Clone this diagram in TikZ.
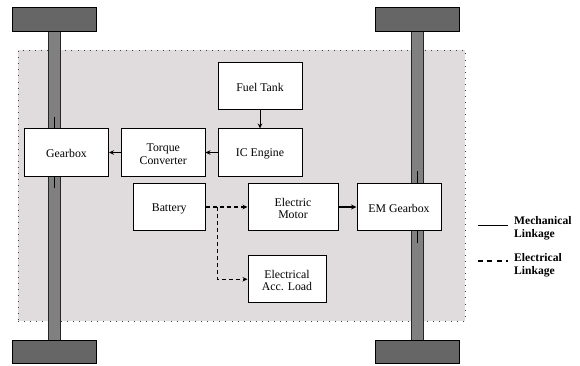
\documentclass[tikz,border=0pt]{standalone}
\usepackage{fontspec}
\setmainfont{Liberation Serif}
\usetikzlibrary{arrows.meta}
\definecolor{regionfill}{HTML}{E0DBDC}
\definecolor{tyrefill}{HTML}{666666}
\definecolor{axlefill}{HTML}{808080}
\newcommand\topgap{\rule{0pt}{11pt}}
\tikzset{
 every node/.style={font=\fontsize{11.8}{12.6}\selectfont,align=center,inner sep=0pt},
 blockbox/.style={draw=black,line width=1pt,fill=white,minimum height=47pt},
 tyre/.style={draw=black,line width=1pt,fill=tyrefill,minimum width=84pt,minimum height=23.5pt},
 axle/.style={draw=black!85,line width=1pt,fill=axlefill,minimum width=12pt,minimum height=309pt},
 mech/.style={line width=0.9pt,-{Stealth[length=5pt,width=4.5pt]}},
 thickmech/.style={line width=1.3pt,-{Stealth[length=5.5pt,width=5pt]}},
 elec/.style={line width=1.1pt,dash pattern=on 4pt off 3pt,-{Stealth[length=5pt,width=4.5pt]}},
 stub/.style={line width=0.9pt,draw=black},
 legendtext/.style={font=\fontsize{11.6}{12.6}\selectfont\bfseries,align=left,anchor=west},
}
\begin{document}
\begin{tikzpicture}[x=1pt,y=-1pt]
\useasboundingbox (0,0) rectangle (580,366);
% hybrid region
\node[draw=black!75,dash pattern=on 0.9pt off 5.2pt,line width=0.9pt,fill=regionfill,minimum width=447pt,minimum height=270.5pt] (region) at (241.5,185.75) {};
% axles and wheels
\node[axle] (axleL) at (54.5,185.75) {};
\node[axle] (axleR) at (417,185.75) {};
\node[tyre] (tyreLT) at (54.5,19.5) {};
\node[tyre] (tyreRT) at (417,19.5) {};
\node[tyre] (tyreLB) at (54.5,352) {};
\node[tyre] (tyreRB) at (417,352) {};
% blocks
\node[blockbox,minimum width=84pt] (fuel) at (260,86) {\topgap Fuel Tank};
\node[blockbox,minimum width=84pt] (ice) at (260,152.5) {\topgap IC Engine};
\node[blockbox,minimum width=83.5pt] (tc) at (163.25,152.5) {\topgap Torque\\Converter};
\node[blockbox,minimum width=84pt] (gbL) at (66.5,152.5) {\topgap Gearbox};
\node[blockbox,minimum width=71.5pt] (bat) at (169.25,207) {\topgap Battery};
\node[blockbox,minimum width=90pt] (motor) at (293,207) {\topgap Electric\\Motor};
\node[blockbox,minimum width=84pt] (gbR) at (399,207) {\topgap EM Gearbox};
\node[blockbox,minimum width=78pt] (acc) at (287,279.25) {\topgap Electrical\\Acc. Load};
% connectors
\draw[mech] (fuel) -- (ice);
\draw[mech] (ice) -- (tc);
\draw[mech] (tc) -- (gbL);
\draw[thickmech] (motor) -- (gbR);
\coordinate (junction) at (217.5,207);
\draw[elec] (bat) -- (motor);
\draw[elec] (junction) |- (acc);
% shaft stubs at gearboxes
\coordinate (stubLa) at (54.5,117);
\coordinate (stubLb) at (54.5,188);
\coordinate (stubRa) at (417,171);
\coordinate (stubRb) at (417,243);
\draw[stub] (stubLa) -- (stubLa |- gbL.north);
\draw[stub] (stubLb) -- (stubLb |- gbL.south);
\draw[stub] (stubRa) -- (stubRa |- gbR.north);
\draw[stub] (stubRb) -- (stubRb |- gbR.south);
% legend
\coordinate (mechA) at (477.5,225);
\coordinate (mechB) at (508,225);
\coordinate (elecA) at (477.5,261);
\coordinate (elecB) at (508,261);
\draw[line width=0.9pt] (mechA) -- (mechB);
\draw[line width=1.1pt,dash pattern=on 5pt off 4.5pt] (elecA) -- (elecB);
\node[legendtext] (lmech) at (514,228.5) {Mechanical\\Linkage};
\node[legendtext] (lelec) at (514,265) {Electrical\\Linkage};
\end{tikzpicture}
\end{document}
